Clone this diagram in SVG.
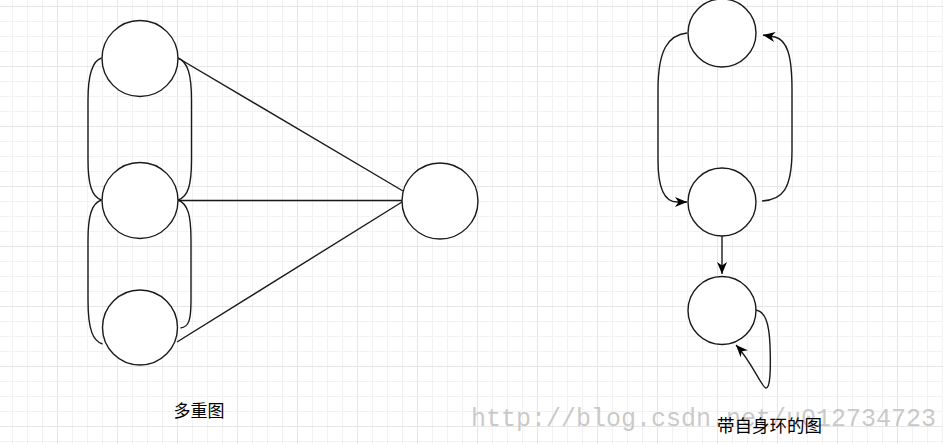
<svg xmlns="http://www.w3.org/2000/svg" width="943" height="444" viewBox="0 0 943 444">
<style>
.node{fill:#fff;stroke:#1a1a1a;stroke-width:1.4}
.edge{fill:none;stroke:#1a1a1a;stroke-width:1.4}
.lbl{font-family:"Liberation Sans","Noto Sans CJK SC",sans-serif;font-size:17px;fill:#000;text-anchor:middle}
.wm{font-family:"Liberation Mono",monospace;font-size:25px;fill:#b8b8b8;fill-opacity:0.75}
</style>
<defs>
<pattern id="grid" x="57" y="6" width="60" height="60" patternUnits="userSpaceOnUse">
<path d="M15.5,0V60M30.5,0V60M45.5,0V60M0,15.5H60M0,30.5H60M0,45.5H60" stroke="#f2f2f2" stroke-width="1" fill="none"/>
<path d="M0.5,0V60M0,0.5H60" stroke="#e6e6e6" stroke-width="1" fill="none"/>
</pattern>
<marker id="arr" markerUnits="userSpaceOnUse" markerWidth="14" markerHeight="12" refX="12" refY="5" orient="auto">
<path d="M0,0 L12,5 L0,10 L3.5,5 Z" fill="#000"/>
</marker>
</defs>
<rect width="943" height="444" fill="#fff"/>
<rect width="943" height="444" fill="url(#grid)"/>
<text class="wm" x="471" y="426">http://blog.csdn.net/u012734723</text>
<g id="connectors">
<path class="edge" d="M178,58 L403,191"/>
<path class="edge" d="M178,200.5 L402,200.5"/>
<path class="edge" d="M177,342 L402,202"/>
<path class="edge" d="M101.5,58 C92,61 88,75 88,100 L88,160 C88,185 92,197 101.5,200"/>
<path class="edge" d="M101.5,200 C92,203 88,215 88,240 L88,300 C88,330 93,341 102.5,344"/>
<path class="edge" d="M178,58 C188,62 191.5,75 191.5,100 L191.5,160 C191.5,185 188,197 178,200"/>
<path class="edge" d="M178,200 C188,204 191,215 191,240 L191,300 C191,320 189,327 180.5,328"/>
<path class="edge" d="M687,33 C668,35 658,50 658,90 L658,160 C658,190 665,202 677,202 L687,202" marker-end="url(#arr)"/>
<path class="edge" d="M762,201 C782,200 792,190 792,150 L792,90 C792,55 787,40 775,37 L763,35" marker-end="url(#arr)"/>
<path class="edge" d="M722,236 L722,274" marker-end="url(#arr)"/>
<path class="edge" d="M755,310 C765,311 769,322 770,345 C771,372 770,388 766,388 C762,388 752,362 736,345" marker-end="url(#arr)"/>
</g>
<g id="n1"><circle class="node" cx="140" cy="58.5" r="38"/></g>
<g id="n2"><circle class="node" cx="140" cy="200.5" r="38"/></g>
<g id="n3"><circle class="node" cx="140" cy="327.5" r="37.5"/></g>
<g id="n4"><circle class="node" cx="440" cy="201" r="38"/></g>
<g id="n5"><circle class="node" cx="722" cy="33" r="34"/></g>
<g id="n6"><circle class="node" cx="722" cy="202" r="34"/></g>
<g id="n7"><circle class="node" cx="722" cy="310.5" r="34"/></g>
<g id="labels">
<text class="lbl" x="199" y="417">多重图</text>
<text class="lbl" x="769.5" y="432" style="font-size:17.5px">带自身环的图</text>
</g>
</svg>
